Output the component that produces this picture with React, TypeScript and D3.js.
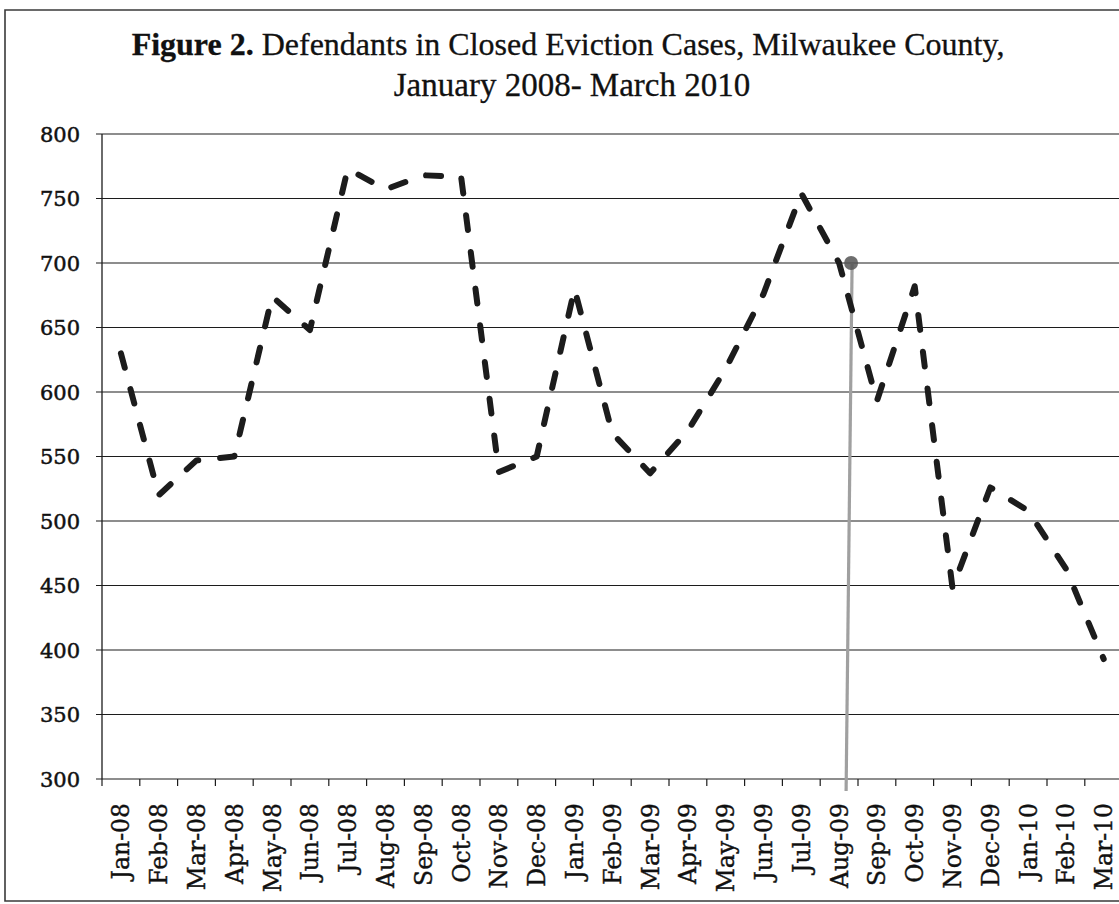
import React from "react";
import * as d3 from "d3";

const months: string[] = [
  "Jan-08", "Feb-08", "Mar-08", "Apr-08", "May-08", "Jun-08", "Jul-08", "Aug-08", "Sep-08",
  "Oct-08", "Nov-08", "Dec-08", "Jan-09", "Feb-09", "Mar-09", "Apr-09", "May-09", "Jun-09",
  "Jul-09", "Aug-09", "Sep-09", "Oct-09", "Nov-09", "Dec-09", "Jan-10", "Feb-10", "Mar-10",
];
const defendants: number[] = [
  630, 520, 547, 550, 674, 648, 773, 757, 768,
  767, 538, 550, 680, 568, 537, 570, 618, 676,
  754, 700, 593, 682, 448, 526, 508, 463, 393,
];
const yTicks: number[] = [300, 350, 400, 450, 500, 550, 600, 650, 700, 750, 800];
const titleBold = "Figure 2.";
const titleRest = " Defendants in Closed Eviction Cases, Milwaukee County,";
const titleLine2 = "January 2008- March 2010";
const markedMonth = "Aug-09";

const W = 1119;
const H = 904;

export default function App() {
  const x = d3.scaleBand<string>().domain(months).range([102, 102 + 27 * 37.8]).padding(0);
  const y = d3.scaleLinear().domain([300, 800]).range([779, 134]);
  const bw = x.bandwidth();
  const cx = (m: string) => (x(m) as number) + bw / 2;

  const line = d3
    .line<number>()
    .x((_, i) => cx(months[i]))
    .y((d) => y(d));

  const axisX = x.range()[0];
  const ink = "#1c1c1c";
  const markIdx = months.indexOf(markedMonth);
  const mx = cx(markedMonth);
  const my = y(defendants[markIdx]);

  return (
    <svg
      width={W}
      height={H}
      style={{ position: "absolute", left: 0, top: 0, background: "#fff" }}
    >
      <rect x={0} y={0} width={W} height={H} fill="#fff" />
      {/* outer frame */}
      <path
        d={`M${W + 5},10 L5,10 L5,901 L${W + 5},901`}
        fill="none"
        stroke="#3a3a3a"
        strokeWidth={1.6}
      />
      {/* title */}
      <text
        x={568}
        y={55}
        textAnchor="middle"
        fontFamily="'Liberation Serif', 'Times New Roman', serif"
        fontSize={32}
        fill="#111"
        stroke="#111"
        strokeWidth={0.3}
      >
        <tspan fontWeight="bold">{titleBold}</tspan>
        <tspan>{titleRest}</tspan>
      </text>
      <text
        x={572}
        y={96}
        textAnchor="middle"
        fontFamily="'Liberation Serif', 'Times New Roman', serif"
        fontSize={33}
        fill="#111"
        stroke="#111"
        strokeWidth={0.3}
      >
        {titleLine2}
      </text>

      {/* gridlines + y ticks */}
      {yTicks.map((t) => (
        <g key={t}>
          <line x1={axisX - 6} x2={W} y1={y(t)} y2={y(t)} stroke={ink} strokeWidth={1.2} />
          <text
            x={80}
            y={y(t)}
            dy="0.36em"
            textAnchor="end"
            fontFamily="'DejaVu Serif', serif"
            fontSize={21}
            fill="#111"
            stroke="#111"
            strokeWidth={0.5}
          >
            {t}
          </text>
        </g>
      ))}
      {/* y axis */}
      <line x1={axisX} x2={axisX} y1={y(800)} y2={y(300)} stroke={ink} strokeWidth={1.3} />

      {/* x ticks */}
      {months.map((m) => (
        <line
          key={"t" + m}
          x1={(x(m) as number) + bw}
          x2={(x(m) as number) + bw}
          y1={y(300)}
          y2={y(300) + 7}
          stroke={ink}
          strokeWidth={1.2}
        />
      ))}
      <line x1={axisX} x2={axisX} y1={y(300)} y2={y(300) + 7} stroke={ink} strokeWidth={1.2} />
      {months.map((m) => (
        <text
          key={"l" + m}
          transform={`translate(${cx(m)},${y(300) + 24}) rotate(-90)`}
          dy="0.36em"
          textAnchor="end"
          fontFamily="'DejaVu Serif', serif"
          fontSize={23.5}
          fill="#111"
          stroke="#111"
          strokeWidth={0.4}
        >
          {m}
        </text>
      ))}

      {/* scanned grey marker line */}
      <line
        x1={mx + 13}
        y1={my}
        x2={mx + 7}
        y2={y(300) + 12}
        stroke="#a0a0a0"
        strokeWidth={3.2}
      />
      <circle cx={mx + 12} cy={my} r={7} fill="#555" opacity={0.85} />

      {/* data line */}
      <path
        d={line(defendants) || ""}
        fill="none"
        stroke={ink}
        strokeWidth={6}
        strokeDasharray="15 22"
        strokeLinecap="round"
        strokeLinejoin="round"
      />
    </svg>
  );
}
